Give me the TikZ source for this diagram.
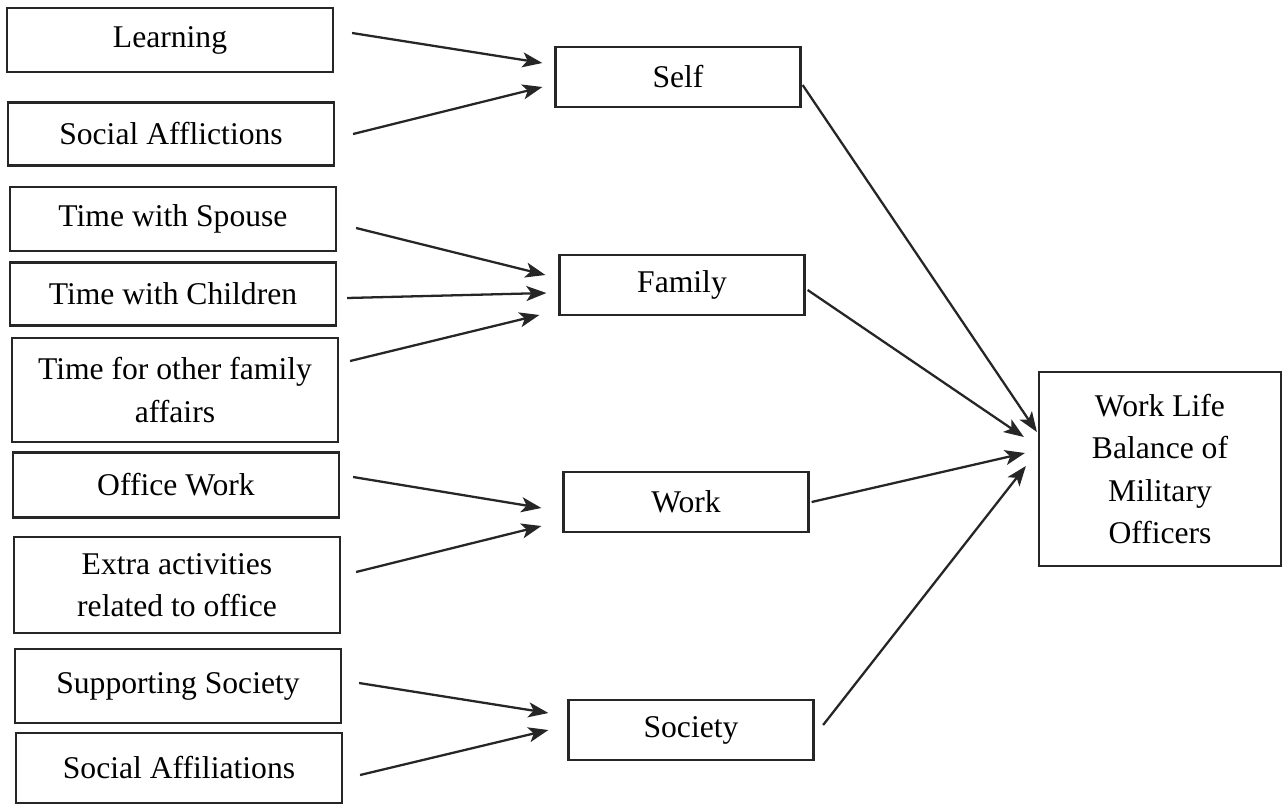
\documentclass[tikz,border=0pt]{standalone}
\usepackage{fontspec}
\setmainfont{Liberation Serif}
\usetikzlibrary{arrows.meta}

\begin{document}
\begin{tikzpicture}[x=0.02cm,y=-0.02cm,
		box/.style={draw=black!85, line width=1.3pt, fill=white, inner sep=0pt, minimum width=6.52cm, align=center, font=\fontsize{18}{24}\selectfont},
		dim/.style={box, minimum width=4.9cm, minimum height=1.2cm},
		arr/.style={draw=black!85, line width=1.3pt, -{Stealth[length=4mm,width=3mm,inset=1mm]}}]
			\useasboundingbox (0,0) rectangle (1283,805);
			\node[box, minimum height=1.28cm](f1) at (170,40){Learning};
			\node[box, minimum height=1.26cm](f2) at (171,134){Social Afflictions};
			\node[box, minimum height=1.28cm](f3) at (173,219){Time with Spouse};
			\node[box, minimum height=1.26cm](f4) at (173,294){Time with Children};
			\node[box, minimum height=2.08cm](f5) at (175,390){Time for other family\\affairs};
			\node[box, minimum height=1.3cm](f6) at (176,485){Office Work};
			\node[box, minimum height=1.92cm](f7) at (177,585){Extra activities\\related to office};
			\node[box, minimum height=1.48cm](f8) at (178,686){Supporting Society};
			\node[box, minimum height=1.4cm](f9) at (179,768){Social Affiliations};
			\node[dim](d1) at (678,77){Self};
			\node[dim](d2) at (682,285){Family};
			\node[dim](d3) at (686,502){Work};
			\node[dim](d4) at (691,730){Society};
			\node[box, minimum width=4.84cm, minimum height=3.88cm](wlb) at (1160,469){Work Life\\Balance of\\Military\\Officers};
			\draw[arr] ([xshift=.36cm,yshift=.14cm]f1.east) -- ([xshift=-.24cm,yshift=.28cm]d1.west);
			\draw[arr] ([xshift=.36cm]f2.east) -- ([xshift=-.24cm,yshift=-.2cm]d1.west);
			\draw[arr] ([xshift=.38cm,yshift=-.18cm]f3.east) -- ([xshift=-.26cm,yshift=.2cm]d2.west);
			\draw[arr] ([xshift=.2cm,yshift=-.08cm]f4.east) -- ([xshift=-.24cm,yshift=-.16cm]d2.west);
			\draw[arr] ([xshift=.22cm,yshift=.58cm]f5.east) -- ([xshift=-.38cm,yshift=-.6cm]d2.west);
			\draw[arr] ([xshift=.26cm,yshift=.16cm]f6.east) -- ([xshift=-.42cm,yshift=-.12cm]d3.west);
			\draw[arr] ([xshift=.3cm,yshift=.26cm]f7.east) -- ([xshift=-.42cm,yshift=-.48cm]d3.west);
			\draw[arr] ([xshift=.34cm,yshift=.06cm]f8.east) -- ([xshift=-.38cm,yshift=.34cm]d4.west);
			\draw[arr] ([xshift=.34cm,yshift=-.14cm]f9.east) -- ([xshift=-.38cm]d4.west);
			\draw[arr] ([xshift=.02cm,yshift=-.16cm]d1.east) -- ([xshift=-.02cm,yshift=.74cm]wlb.west);
			\draw[arr] ([xshift=.04cm,yshift=-.1cm]d2.east) -- ([xshift=-.28cm,yshift=.64cm]wlb.west);
			\draw[arr] ([xshift=.04cm]d3.east) -- ([xshift=-.26cm,yshift=.32cm]wlb.west);
			\draw[arr] ([xshift=.17cm,yshift=.1cm]d4.east) -- ([xshift=-.24cm,yshift=.06cm]wlb.west);
			\end{tikzpicture}
\end{document}
